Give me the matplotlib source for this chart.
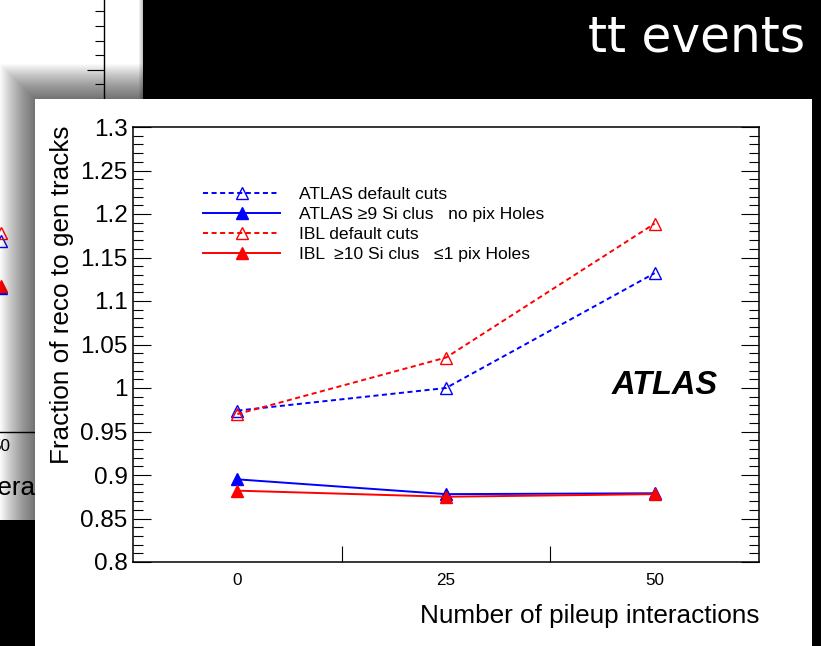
import matplotlib
matplotlib.use('Agg')
import matplotlib.pyplot as plt
from matplotlib.patches import Rectangle
from matplotlib.lines import Line2D
from matplotlib.ticker import MultipleLocator, FixedLocator, FuncFormatter
import numpy as np

plt.rcParams['font.family'] = ['Liberation Sans', 'DejaVu Sans']

# ---------------- data ----------------
pileup_labels = ['0', '25', '50']
atlas_default = [0.974, 1.000, 1.132]
atlas_tight = [0.895, 0.878, 0.879]
ibl_default = [0.970, 1.035, 1.189]
ibl_tight = [0.882, 0.875, 0.878]
series_labels = ['ATLAS default cuts',
                 'ATLAS \u22659 Si clus   no pix Holes',
                 'IBL default cuts',
                 'IBL  \u226510 Si clus   \u22641 pix Holes']

# partially hidden chart behind (only the last bin is visible)
behind_atlas_default = [np.nan, np.nan, 0.932]
behind_atlas_tight = [np.nan, np.nan, 0.899]
behind_ibl_default = [np.nan, np.nan, 0.937]
behind_ibl_tight = [np.nan, np.nan, 0.901]

title_text = 'tt events'
xlabel_text = 'Number of pileup interactions'
ylabel_text = 'Fraction of reco to gen tracks'

# ---------------- figure ----------------
W, H, DPI = 821, 646, 100
fig = plt.figure(figsize=(W / DPI, H / DPI), dpi=DPI, facecolor='black')


def px_axes(l, t, r, b):
    return [l / W, 1 - b / H, (r - l) / W, (b - t) / H]


BLUE = '#0000ff'
RED = '#ff0000'
DASH = (0, (2.6, 1.8))

# background layer (behind slide)
bg = fig.add_axes([0, 0, 1, 1], zorder=0)
bg.set_xlim(0, W)
bg.set_ylim(H, 0)
bg.axis('off')
bg.add_patch(Rectangle((-10, -10), 153, 530, facecolor='white', edgecolor='none'))
for i in range(1, 5):
    bg.add_patch(Rectangle((143 - i, -10), i, 530, facecolor='black', alpha=0.06, edgecolor='none'))

# behind chart (mostly hidden)
bax = fig.add_axes(px_axes(-514, -293, 104, 432), zorder=1)
bax.patch.set_visible(False)
bax.set_xlim(0, 3)
bax.set_ylim(0.8, 1.3)
bx = np.arange(3) + 0.5
for vals, col, ls, mfc in [(behind_atlas_default, BLUE, DASH, 'none'),
                           (behind_atlas_tight, BLUE, '-', BLUE),
                           (behind_ibl_default, RED, DASH, 'none'),
                           (behind_ibl_tight, RED, '-', RED)]:
    bax.plot(bx, vals, color=col, ls=ls, lw=1.4, marker='^', ms=9, mfc=mfc, mec=col, mew=1.0)
bax.set_xticks(bx)
bax.set_xticklabels(pileup_labels, fontsize=12.3)
bax.tick_params(axis='x', which='major', length=0, pad=5)
bax.yaxis.set_major_locator(MultipleLocator(0.05))
bax.yaxis.set_minor_locator(MultipleLocator(0.01))
bax.tick_params(axis='y', which='major', direction='in', length=12.5, width=0.8,
                left=True, right=True, labelleft=False)
bax.tick_params(axis='y', which='minor', direction='in', length=6.5, width=0.8,
                left=True, right=True)
for s in bax.spines.values():
    s.set_linewidth(1.0)
bax.text(1.0, -56 / 725, xlabel_text, transform=bax.transAxes, ha='right', va='center',
         fontsize=18.8)

# foreground slide panel with shadow
fg = fig.add_axes([0, 0, 1, 1], zorder=2)
fg.set_xlim(0, W)
fg.set_ylim(H, 0)
fg.axis('off')
PL, PT, PR = 35, 99, 812
for i in range(1, 36):
    fg.add_patch(Rectangle((PL - i, PT - i), PR - PL + 2 * i, H - PT + 40,
                           facecolor='black', alpha=0.02, edgecolor='none'))
fg.add_patch(Rectangle((PL, PT), PR - PL, H - PT + 10, facecolor='white', edgecolor='none'))

# main chart
ax = fig.add_axes(px_axes(133, 127, 759, 562), zorder=3)
ax.patch.set_visible(False)
ax.set_xlim(0, 3)
ax.set_ylim(0.8, 1.3)
x = np.arange(len(pileup_labels)) + 0.5

styles = [(atlas_default, BLUE, DASH, 'none'),
          (atlas_tight, BLUE, '-', BLUE),
          (ibl_default, RED, DASH, 'none'),
          (ibl_tight, RED, '-', RED)]
handles = []
for (vals, col, ls, mfc), lab in zip(styles, series_labels):
    ax.plot(x, vals, color=col, ls=ls, lw=1.4, marker='^', ms=9, mfc=mfc, mec=col, mew=1.0)
    handles.append(Line2D([], [], color=col, ls=ls, lw=1.4, marker='^', ms=8, mfc=mfc,
                          mec=col, mew=1.0, label=lab))

ax.set_xticks(x)
ax.set_xticklabels(pileup_labels, fontsize=12.3)
ax.tick_params(axis='x', which='major', length=0, pad=8)
ax.xaxis.set_minor_locator(FixedLocator([1, 2]))
ax.tick_params(axis='x', which='minor', direction='in', length=11.5, width=0.8,
               bottom=True, top=False)

ax.yaxis.set_major_locator(MultipleLocator(0.05))
ax.yaxis.set_minor_locator(MultipleLocator(0.01))
ax.yaxis.set_major_formatter(FuncFormatter(lambda v, p: '%g' % round(v, 2)))
ax.tick_params(axis='y', which='major', direction='in', length=13, width=0.8,
               left=True, right=True, labelsize=17.5, pad=4)
ax.tick_params(axis='y', which='minor', direction='in', length=7, width=0.8,
               left=True, right=True)
for s in ax.spines.values():
    s.set_linewidth(1.1)

ax.text((62 - 133) / 626, (562 - 125) / 435, ylabel_text, transform=ax.transAxes,
        rotation=90, ha='center', va='top', fontsize=18.8)
ax.text((759 - 133) / 626, (562 - 616) / 435, xlabel_text, transform=ax.transAxes,
        ha='right', va='center', fontsize=18.8)
ax.text((612 - 133) / 626, (562 - 385) / 435, 'ATLAS', transform=ax.transAxes,
        ha='left', va='center', fontsize=23.5, fontweight='bold', fontstyle='italic')

leg = ax.legend(handles=handles, loc='upper left',
                bbox_to_anchor=((203 - 133) / 626, (562 - 187) / 435),
                frameon=False, fontsize=12.6, handlelength=4.4, handletextpad=1.1,
                labelspacing=0.27, borderpad=0, borderaxespad=0, numpoints=1)

fig.text(805 / W, 1 - 51 / H, title_text, color='white', fontsize=35,
         family='DejaVu Sans', ha='right', va='baseline')

fig.savefig('out.png', dpi=DPI, facecolor='black')
